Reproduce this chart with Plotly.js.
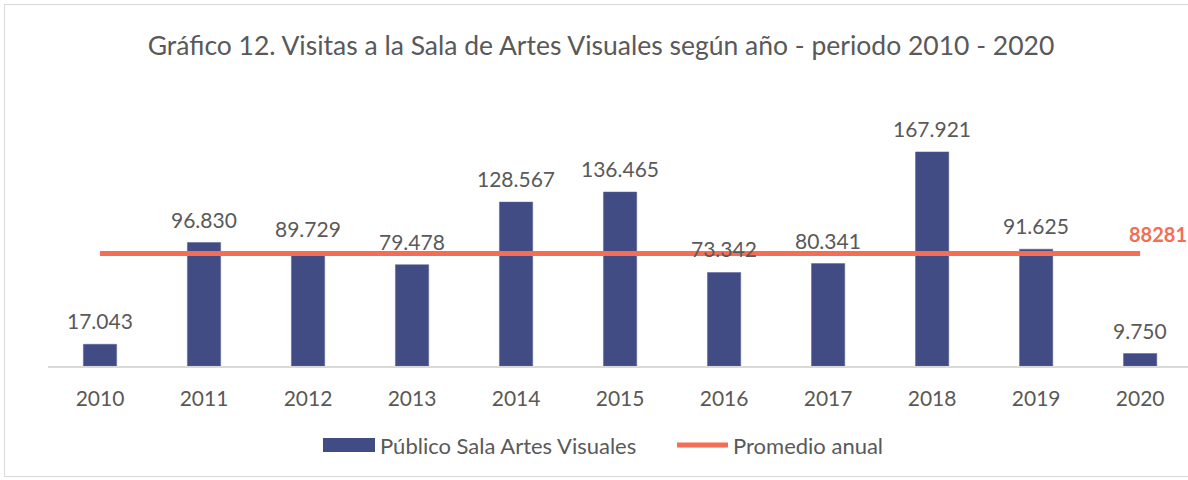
<!DOCTYPE html>
<html>
<head>
<meta charset="utf-8">
<script src="https://cdn.plot.ly/plotly-3.0.1.min.js"></script>
<style>
html,body{margin:0;padding:0;background:#fff;}
#chart{width:1188px;height:480px;position:relative;}
#frame{position:absolute;left:4px;top:4px;width:1200px;height:473px;border:1px solid #D9D9D9;pointer-events:none;box-sizing:border-box;}
</style>
</head>
<body>
<div id="chart"></div>
<div id="frame"></div>
<script>
const years = ['2010','2011','2012','2013','2014','2015','2016','2017','2018','2019','2020'];
const visitas = [17043, 96830, 89729, 79478, 128567, 136465, 73342, 80341, 167921, 91625, 9750];
const promedio = [88281, 88281, 88281, 88281, 88281, 88281, 88281, 88281, 88281, 88281, 88281];
const promedioLabel = '88281';
const titleText = 'Gráfico 12. Visitas a la Sala de Artes Visuales según año - periodo 2010 - 2020';
const serieBarras = 'Público Sala Artes Visuales';
const serieLinea = 'Promedio anual';

const FONT = 'Lato, sans-serif';
const GREY = '#595959';
const BAR = '#414B84';
const LINE = '#F46E55';

// pixel helpers for paper coords (plot area: x 48..1188, y 111..366)
const PL = 48, PW = 1140, PB = 366, PH = 255;
const px = v => (v - PL) / PW;
const py = v => (PB - v) / PH;

function fmt(n){ return String(n).replace(/\B(?=(\d{3})+(?!\d))/g, '.'); }

const annotations = years.map((y,i)=>({
  x: i, y: visitas[i], xref:'x', yref:'y',
  text: fmt(visitas[i]), showarrow:false, yanchor:'bottom', yshift:9,
  font:{family:FONT, size:21, color:GREY}
}));
annotations.push({
  x: years.length-1, y: promedio[promedio.length-1], xref:'x', yref:'y',
  text: '<b>'+promedioLabel+'</b>', showarrow:false, xanchor:'center', xshift:18, yanchor:'bottom', yshift:5,
  font:{family:FONT, size:20, color:LINE}
});
// custom legend texts
annotations.push({x:px(378), y:py(445), xref:'paper', yref:'paper', xanchor:'left', yanchor:'middle',
  text:serieBarras, showarrow:false, font:{family:FONT, size:22, color:GREY}});
annotations.push({x:px(731), y:py(445), xref:'paper', yref:'paper', xanchor:'left', yanchor:'middle',
  text:serieLinea, showarrow:false, font:{family:FONT, size:22, color:GREY}});

const shapes = [
  {type:'rect', xref:'paper', yref:'paper', x0:px(323), x1:px(375), y0:py(452), y1:py(438),
   fillcolor:BAR, line:{width:0}},
  {type:'line', xref:'paper', yref:'paper', x0:px(677), x1:px(728), y0:py(445), y1:py(445),
   line:{color:LINE, width:5}}
];

const data = [
  {type:'bar', x:years, y:visitas, name:serieBarras,
   marker:{color:BAR, line:{color:'#5A6396', width:0.5}}, hoverinfo:'skip'},
  {type:'scatter', mode:'lines', x:years, y:promedio, name:serieLinea,
   line:{color:LINE, width:5}, hoverinfo:'skip'}
];

const layout = {
  width:1188, height:480,
  margin:{l:48, r:0, t:111, b:114},
  paper_bgcolor:'#fff', plot_bgcolor:'#fff',
  title:{text:titleText, x:px(601), xref:'paper', xanchor:'center', y:0.905, yanchor:'middle',
    font:{family:FONT, size:26.5, color:GREY}},
  bargap:0.68,
  xaxis:{type:'category', range:[-0.5,10.46], showline:true, linecolor:'#D9D9D9', linewidth:1.5,
    ticks:'', showgrid:false, tickfont:{family:FONT, size:21, color:GREY}, ticklabelstandoff:13},
  yaxis:{range:[0,200000], showticklabels:false, showline:false, showgrid:false, zeroline:false, ticks:''},
  showlegend:false,
  annotations:annotations,
  shapes:shapes
};

Plotly.newPlot('chart', data, layout, {displayModeBar:false, staticPlot:true});
</script>
</body>
</html>
